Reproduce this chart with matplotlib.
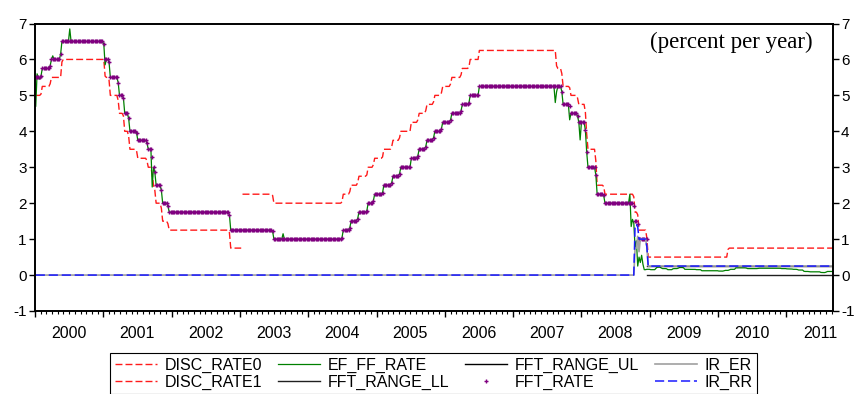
import numpy as np
import pandas as pd
import matplotlib
matplotlib.use('Agg')
import matplotlib.pyplot as plt
import matplotlib.dates as mdates

plt.rcParams['font.family'] = ['Liberation Sans', 'DejaVu Sans']
plt.rcParams['axes.unicode_minus'] = False

start = '2000-01-01'
end = '2011-09-07'

# fed funds target: date of change, new level (nan = series stops)
fft_dates = ['2000-01-01', '2000-02-02', '2000-03-21', '2000-05-16', '2001-01-03',
             '2001-01-31', '2001-03-20', '2001-04-18', '2001-05-15', '2001-06-27',
             '2001-08-21', '2001-09-17', '2001-10-02', '2001-11-06', '2001-12-11',
             '2002-11-06', '2003-06-25', '2004-06-30', '2004-08-10', '2004-09-21',
             '2004-11-10', '2004-12-14', '2005-02-02', '2005-03-22', '2005-05-03',
             '2005-06-30', '2005-08-09', '2005-09-20', '2005-11-01', '2005-12-13',
             '2006-01-31', '2006-03-28', '2006-05-10', '2006-06-29', '2007-09-18',
             '2007-10-31', '2007-12-11', '2008-01-22', '2008-01-30', '2008-03-18',
             '2008-04-30', '2008-10-08', '2008-10-29', '2008-12-16']
fft_vals = [5.50, 5.75, 6.00, 6.50, 6.00, 5.50, 5.00, 4.50, 4.00, 3.75, 3.50, 3.00,
            2.50, 2.00, 1.75, 1.25, 1.00, 1.25, 1.50, 1.75, 2.00, 2.25, 2.50, 2.75,
            3.00, 3.25, 3.50, 3.75, 4.00, 4.25, 4.50, 4.75, 5.00, 5.25, 4.75, 4.50,
            4.25, 3.50, 3.00, 2.25, 2.00, 1.50, 1.00, np.nan]

# discount rate (adjustment credit)
disc0_dates = ['2000-01-01', '2000-02-02', '2000-03-21', '2000-05-19', '2001-01-04',
               '2001-01-05', '2001-01-31', '2001-03-20', '2001-04-18', '2001-05-15',
               '2001-06-27', '2001-08-21', '2001-09-17', '2001-10-02', '2001-11-06',
               '2001-12-11', '2002-11-06', '2003-01-09']
disc0_vals = [5.00, 5.25, 5.50, 6.00, 5.75, 5.50, 5.00, 4.50, 4.00, 3.50, 3.25, 3.00,
              2.50, 2.00, 1.50, 1.25, 0.75, np.nan]

# primary credit rate
disc1_dates = ['2003-01-09', '2003-06-25', '2004-06-30', '2004-08-10', '2004-09-21',
               '2004-11-10', '2004-12-14', '2005-02-02', '2005-03-22', '2005-05-03',
               '2005-06-30', '2005-08-09', '2005-09-20', '2005-11-01', '2005-12-13',
               '2006-01-31', '2006-03-28', '2006-05-10', '2006-06-29', '2007-08-17',
               '2007-09-18', '2007-10-31', '2007-12-11', '2008-01-22', '2008-01-30',
               '2008-03-17', '2008-03-18', '2008-04-30', '2008-10-08', '2008-10-29',
               '2008-12-16', '2010-02-19']
disc1_vals = [2.25, 2.00, 2.25, 2.50, 2.75, 3.00, 3.25, 3.50, 3.75, 4.00, 4.25, 4.50,
              4.75, 5.00, 5.25, 5.50, 5.75, 6.00, 6.25, 5.75, 5.25, 5.00, 4.75, 4.00,
              3.50, 3.25, 2.50, 2.25, 1.75, 1.25, 0.50, 0.75]

# interest on reserves
rr_dates = ['2000-01-01', '2008-10-09', '2008-10-29', '2008-12-16']
rr_vals = [0.0, 1.40, 1.00, 0.25]
er_dates = ['2000-01-01', '2008-10-09', '2008-10-23', '2008-10-29', '2008-11-06', '2008-12-16']
er_vals = [0.0, 0.75, 1.15, 0.65, 1.00, 0.25]

# target range
range_dates = ['2008-12-16']
range_ll = [0.0]
range_ul = [0.25]

# effective rate after the range started (monthly reading)
ef_months = ['2008-12-17', '2009-01-01', '2009-02-01', '2009-03-01', '2009-04-01',
             '2009-05-01', '2009-06-01', '2009-07-01', '2009-08-01', '2009-09-01',
             '2009-10-01', '2009-11-01', '2009-12-01', '2010-01-01', '2010-02-01',
             '2010-03-01', '2010-04-01', '2010-05-01', '2010-06-01', '2010-07-01',
             '2010-08-01', '2010-09-01', '2010-10-01', '2010-11-01', '2010-12-01',
             '2011-01-01', '2011-02-01', '2011-03-01', '2011-04-01', '2011-05-01',
             '2011-06-01', '2011-07-01', '2011-08-01']
ef_month_vals = [0.16, 0.15, 0.22, 0.18, 0.15, 0.18, 0.21, 0.16, 0.16, 0.15, 0.12,
                 0.12, 0.12, 0.11, 0.13, 0.16, 0.20, 0.20, 0.18, 0.18, 0.19, 0.19,
                 0.19, 0.19, 0.18, 0.17, 0.16, 0.14, 0.10, 0.09, 0.09, 0.07, 0.10]

# effective rate spikes away from target
spike_dates = ['2000-01-05', '2000-01-12', '2000-01-26', '2000-04-05', '2000-07-05',
               '2001-01-10', '2001-09-19', '2003-08-20', '2007-08-15', '2007-08-22',
               '2007-10-31', '2007-12-26', '2008-09-17', '2008-09-24', '2008-10-01',
               '2008-10-08', '2008-10-15', '2008-10-22', '2008-10-29', '2008-11-05',
               '2008-11-12', '2008-11-19', '2008-11-26', '2008-12-03', '2008-12-10']
spike_vals = [4.70, 5.60, 5.45, 6.10, 6.85, 5.85, 2.45, 1.15, 4.80, 5.10, 4.32, 3.76,
              2.25, 1.35, 1.55, 1.45, 0.75, 0.95, 0.25, 0.50, 0.35, 0.55, 0.30, 0.15, 0.15]

days = pd.date_range(start, end, freq='D')


def weekly(dates, vals):
    # step series held until next change, then weekly averages
    d = pd.Series(vals, index=pd.to_datetime(dates)).reindex(days, method='ffill')
    return d.resample('W-WED').mean()


fft_w = weekly(fft_dates, fft_vals)
disc0_w = weekly(disc0_dates, disc0_vals)
disc1_w = weekly(disc1_dates, disc1_vals)
rr_w = weekly(rr_dates, rr_vals)
er_w = weekly(er_dates, er_vals)
ll_w = weekly(range_dates, range_ll)
ul_w = weekly(range_dates, range_ul)
ll_w[ll_w.index < pd.Timestamp('2008-12-17')] = np.nan
ul_w[ul_w.index < pd.Timestamp('2008-12-17')] = np.nan

ef_w = weekly(ef_months, ef_month_vals).combine_first(fft_w)
for d, v in zip(spike_dates, spike_vals):
    i = ef_w.index.get_indexer([pd.Timestamp(d)], method='nearest')[0]
    ef_w.iloc[i] = v

fig = plt.figure(figsize=(8.58, 3.94), dpi=100)
ax = fig.add_axes([35/858, 1-311/394, (832.7-35)/858, (311-23.5)/394])

red = '#ff1a1a'
h1, = ax.plot(disc0_w.index, disc0_w.values, color=red, lw=1.0, dashes=(5, 2.2))
h2, = ax.plot(disc1_w.index, disc1_w.values, color=red, lw=1.0, dashes=(5, 2.2))
h3, = ax.plot(ef_w.index, ef_w.values, color='#008000', lw=0.9)
h4, = ax.plot(ll_w.index, ll_w.values, color='#202020', lw=1.0)
h5, = ax.plot(ul_w.index, ul_w.values, color='black', lw=1.0)
h6, = ax.plot(fft_w.index, fft_w.values, ls='none', marker='+', ms=3.5, mew=1.0,
              color='#800080')
h7, = ax.plot(er_w.index, er_w.values, color='#a0a0a0', lw=1.2)
h8, = ax.plot(rr_w.index, rr_w.values, color='#1a1aff', lw=1.1, dashes=(6, 2.5))

ax.set_xlim(pd.Timestamp(start), pd.Timestamp(end))
ax.set_ylim(-1, 7)
ax.set_yticks(range(-1, 8))
ax.tick_params(axis='y', which='both', left=True, right=True, labelleft=True,
               labelright=True, direction='out', length=4.5, width=1, pad=1.5,
               labelsize=11)

ax.xaxis.set_major_locator(mdates.YearLocator())
ax.xaxis.set_minor_locator(mdates.MonthLocator())
ax.xaxis.set_major_formatter(plt.NullFormatter())
ax.tick_params(axis='x', which='major', direction='out', length=4, width=1)
ax.tick_params(axis='x', which='minor', direction='out', length=2.5, width=0.8)

years = list(range(2000, 2012))
sec = ax.secondary_xaxis('bottom')
sec.set_xticks(mdates.date2num([pd.Timestamp(f'{y}-07-01') for y in years]),
               labels=[str(y) for y in years])
sec.tick_params(length=0, pad=11, labelsize=11.5)
sec.spines['bottom'].set_visible(False)

for s in ax.spines.values():
    s.set_linewidth(1.4)

fig.text(813/858, 1-42/394, '(percent per year)', ha='right', va='center',
         fontsize=16.5, family='Liberation Serif')

names = ['DISC_RATE0', 'DISC_RATE1', 'EF_FF_RATE', 'FFT_RANGE_LL',
         'FFT_RANGE_UL', 'FFT_RATE', 'IR_ER', 'IR_RR']
leg = ax.legend([h1, h2, h3, h4, h5, h6, h7, h8], names, ncol=4,
                loc='upper center', bbox_to_anchor=((35+832.7)/2/858, 1-353/394),
                bbox_transform=fig.transFigure, fontsize=11.5, frameon=True,
                fancybox=False, edgecolor='black', framealpha=1, borderpad=0.3,
                labelspacing=0.1, handlelength=2.6, handletextpad=0.5,
                columnspacing=1.0, borderaxespad=0)
leg.get_frame().set_linewidth(0.8)

fig.savefig('out.png', dpi=100)
